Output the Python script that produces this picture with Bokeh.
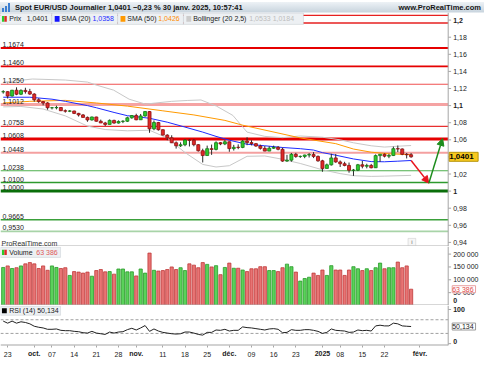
import numpy as np
from bokeh.plotting import figure
from bokeh.layouts import column
from bokeh.models import (Range1d, Label, Div, Arrow, NormalHead, FixedTicker, Span,
                          BoxAnnotation, LinearAxis)
from bokeh.embed import file_html
from bokeh.resources import INLINE

# ------------------------------------------------------------------ data
dates = ([f"2024-09-{d}" for d in ["20", "23", "24", "25", "26", "27", "30"]] +
         [f"2024-10-{d}" for d in ["01", "02", "03", "04", "07", "08", "09", "10", "11", "14", "15", "16",
                                    "17", "18", "21", "22", "23", "24", "25", "28", "29", "30", "31"]] +
         [f"2024-11-{d}" for d in ["01", "04", "05", "06", "07", "08", "11", "12", "13", "14", "15", "18",
                                    "19", "20", "21", "22", "25", "26", "27", "28", "29"]] +
         [f"2024-12-{d}" for d in ["02", "03", "04", "05", "06", "09", "10", "11", "12", "13", "16", "17",
                                    "18", "19", "20", "23", "24", "26", "27", "30", "31"]] +
         [f"2025-01-{d}" for d in ["02", "03", "06", "07", "08", "09", "10", "13", "14", "15", "16", "17",
                                    "20", "21", "22", "23", "24", "27", "28", "29", "30"]])

opens = [1.1161, 1.1163, 1.1112, 1.1180, 1.1133, 1.1178, 1.1164,
         1.1135, 1.1068, 1.1047, 1.1031, 1.0975, 1.0975, 1.0978, 1.0940, 1.0935, 1.0937, 1.0909, 1.0891,
         1.0862, 1.0832, 1.0867, 1.0817, 1.0797, 1.0780, 1.0827, 1.0796, 1.0815, 1.0817, 1.0857,
         1.0884, 1.0834, 1.0879, 1.0930, 1.0728, 1.0802, 1.0718, 1.0655, 1.0623, 1.0565, 1.0530, 1.0542,
         1.0597, 1.0596, 1.0543, 1.0472, 1.0416, 1.0496, 1.0488, 1.0566, 1.0552,
         1.0577, 1.0497, 1.0512, 1.0511, 1.0585, 1.0567, 1.0555, 1.0527, 1.0500, 1.0468, 1.0502, 1.0512,
         1.0489, 1.0351, 1.0362, 1.0430, 1.0405, 1.0406, 1.0422, 1.0427, 1.0406,
         1.0354, 1.0265, 1.0307, 1.0388, 1.0341, 1.0320, 1.0300, 1.0244, 1.0245, 1.0308, 1.0291, 1.0300,
         1.0273, 1.0415, 1.0431, 1.0409, 1.0416, 1.0496, 1.0493, 1.0430, 1.0425]
highs = [1.1180, 1.1168, 1.1183, 1.1214, 1.1190, 1.1209, 1.1196,
         1.1145, 1.1086, 1.1052, 1.1040, 1.0984, 1.0999, 1.0982, 1.0955, 1.0948, 1.0940, 1.0915, 1.0902,
         1.0872, 1.0871, 1.0870, 1.0836, 1.0810, 1.0838, 1.0835, 1.0827, 1.0829, 1.0870, 1.0889,
         1.0905, 1.0902, 1.0937, 1.0937, 1.0826, 1.0809, 1.0722, 1.0665, 1.0653, 1.0581, 1.0570, 1.0608,
         1.0610, 1.0609, 1.0549, 1.0496, 1.0532, 1.0544, 1.0582, 1.0573, 1.0597,
         1.0580, 1.0541, 1.0547, 1.0597, 1.0630, 1.0595, 1.0563, 1.0543, 1.0527, 1.0524, 1.0532, 1.0527,
         1.0509, 1.0424, 1.0446, 1.0447, 1.0416, 1.0426, 1.0445, 1.0456, 1.0416,
         1.0366, 1.0322, 1.0437, 1.0434, 1.0358, 1.0343, 1.0334, 1.0259, 1.0318, 1.0353, 1.0320, 1.0318,
         1.0429, 1.0433, 1.0440, 1.0436, 1.0520, 1.0533, 1.0499, 1.0445, 1.0444]
lows = [1.1140, 1.1083, 1.1107, 1.1122, 1.1123, 1.1140, 1.1126,
        1.1046, 1.1032, 1.1003, 1.0952, 1.0955, 1.0956, 1.0937, 1.0918, 1.0924, 1.0901, 1.0872, 1.0861,
        1.0811, 1.0825, 1.0812, 1.0796, 1.0761, 1.0780, 1.0788, 1.0790, 1.0795, 1.0808, 1.0847,
        1.0829, 1.0834, 1.0871, 1.0682, 1.0712, 1.0707, 1.0650, 1.0595, 1.0562, 1.0497, 1.0516, 1.0525,
        1.0522, 1.0524, 1.0462, 1.0335, 1.0416, 1.0424, 1.0476, 1.0537, 1.0538,
        1.0460, 1.0474, 1.0490, 1.0502, 1.0537, 1.0535, 1.0518, 1.0486, 1.0467, 1.0468, 1.0493, 1.0477,
        1.0343, 1.0342, 1.0344, 1.0389, 1.0388, 1.0385, 1.0393, 1.0386, 1.0343,
        1.0226, 1.0265, 1.0299, 1.0331, 1.0282, 1.0290, 1.0215, 1.0178, 1.0234, 1.0266, 1.0266, 1.0266,
        1.0270, 1.0342, 1.0394, 1.0385, 1.0410, 1.0457, 1.0420, 1.0382, 1.0390]
closes = [1.1163, 1.1112, 1.1180, 1.1133, 1.1178, 1.1164, 1.1135,
          1.1068, 1.1047, 1.1031, 1.0975, 1.0975, 1.0978, 1.0940, 1.0935, 1.0937, 1.0909, 1.0891, 1.0862,
          1.0832, 1.0867, 1.0817, 1.0797, 1.0780, 1.0827, 1.0796, 1.0815, 1.0817, 1.0857, 1.0884,
          1.0834, 1.0879, 1.0930, 1.0728, 1.0802, 1.0718, 1.0655, 1.0623, 1.0565, 1.0530, 1.0542, 1.0597,
          1.0596, 1.0543, 1.0472, 1.0416, 1.0496, 1.0488, 1.0566, 1.0552, 1.0577,
          1.0497, 1.0512, 1.0511, 1.0585, 1.0567, 1.0555, 1.0527, 1.0500, 1.0468, 1.0502, 1.0512, 1.0489,
          1.0351, 1.0362, 1.0430, 1.0405, 1.0406, 1.0422, 1.0427, 1.0406, 1.0354,
          1.0265, 1.0307, 1.0388, 1.0341, 1.0320, 1.0300, 1.0244, 1.0245, 1.0308, 1.0291, 1.0300, 1.0273,
          1.0415, 1.0431, 1.0409, 1.0416, 1.0496, 1.0493, 1.0430, 1.0425, 1.0401]

volumes_k = [148, 154, 144, 147, 154, 162, 167, 162, 144, 154, 137, 154, 148, 144, 147, 117, 132,
             130, 126, 130, 114, 136, 140, 131, 132, 122, 142, 142, 131, 131, 115, 142, 126, 204,
             137, 134, 136, 140, 150, 140, 147, 136, 162, 157, 147, 167, 160, 150, 155, 120, 148,
             165, 145, 145,
             138, 132, 143, 143, 151, 151, 136, 136, 132, 147, 161, 151, 130, 95, 105, 110, 126,
             117, 138, 117, 155, 138, 138, 117, 138, 151, 143, 136, 143, 136, 147, 165, 143, 147,
             147, 169, 147, 154, 63.386]

rsi = [66, 60, 66, 60, 64, 62, 58, 51, 48, 46, 42, 42, 43, 39, 38, 38, 36, 35, 32, 31, 36, 31, 29,
       27, 34, 31, 34, 35, 41, 45, 40, 46, 53, 36, 43, 37, 33, 31, 29, 28, 29, 34, 34, 31, 27, 25,
       33, 33, 40, 39, 42, 37, 39, 39, 49, 47, 46, 44, 42, 40, 43, 44, 42, 32, 33, 41, 39, 39, 41,
       41, 39, 36, 30, 33, 43, 39, 38, 37, 33, 34, 40, 38, 39, 37, 52, 54, 52, 52, 60, 58, 52, 51,
       50.134]

sma20_x = [-1, 5, 10, 13, 18, 20, 24, 27, 32, 36, 40, 44, 47, 50, 54, 58, 62, 66, 69, 71, 74, 78,
           82, 85, 88, 91]
sma20_v = [1.1098, 1.1098, 1.1075, 1.1050, 1.1000, 1.0975, 1.0920, 1.0882, 1.0852, 1.0806, 1.0749,
           1.0690, 1.0640, 1.0595, 1.0548, 1.0530, 1.0510, 1.0496, 1.0480, 1.0450, 1.0420, 1.0376,
           1.0345, 1.0343, 1.0350, 1.0358]
sma50_x = [-1, 5, 13, 20, 27, 35, 42, 49, 53, 66, 74, 78, 82, 86, 91]
sma50_v = [1.1031, 1.1050, 1.1061, 1.1031, 1.0994, 1.0939, 1.0891, 1.0827, 1.0771, 1.0622, 1.0555,
           1.0492, 1.0455, 1.0436, 1.0426]
boll_up_x = [-1, 5.6, 13, 18, 20.2, 23.9, 27.4, 31.1, 33.3, 37, 40.5, 43.6, 47.1, 50.8, 54, 58,
             62, 66, 71, 75, 78, 82, 85, 88, 91]
boll_up_v = [1.1274, 1.1311, 1.1299, 1.1275, 1.1237, 1.1181, 1.1075, 1.1017, 1.1030, 1.1050, 1.1060,
             1.1066, 1.0994, 1.0885, 1.0690, 1.0640, 1.0625, 1.0645, 1.0630, 1.0600, 1.0565, 1.0530,
             1.0515, 1.0525, 1.0533]
boll_lo_x = [-1, 3, 8, 13, 18, 22, 27, 32, 36, 40, 44, 47, 50, 54, 58, 62, 66, 71, 75, 78, 82, 85,
             91]
boll_lo_v = [1.0985, 1.0990, 1.0960, 1.0880, 1.0760, 1.0720, 1.0705, 1.0712, 1.0621, 1.0451, 1.0312,
             1.0282, 1.0297, 1.0407, 1.0411, 1.0372, 1.0323, 1.0249, 1.0205, 1.0180, 1.0172, 1.0175,
             1.0184]

levels = [1.2056, 1.1966, 1.1674, 1.1460, 1.1250, 1.1012, 1.0758, 1.0608, 1.0448, 1.0238, 1.0100,
          1.0000, 0.9665, 0.9530]
level_labels = ["", "", "1,1674", "1,1460", "1,1250", "1,1012", "1,0758", "1,0608", "1,0448",
                "1,0238", "1,0100", "1,0000", "0,9665", "0,9530"]
level_colors = ["#e62020", "#e62020", "#e60000", "#e60000", "#f05050", "#f5a3a3", "#e83030",
                "#e60000", "#f4a0a0", "#4caf4c", "#2e9a2e", "#0a6e0a", "#3aa03a", "#a8d4a8"]
level_widths = [1.3, 1.3, 1.8, 1.8, 1.2, 3, 1.3, 3, 2, 1.2, 1.5, 3, 1.3, 1.8]

price_ticks = [0.94, 0.96, 0.98, 1.0, 1.02, 1.04, 1.06, 1.08, 1.1, 1.12, 1.14, 1.16, 1.18, 1.2]
price_tick_labels = ["0,94", "0,96", "0,98", "1", "1,02", "1,04", "1,06", "1,08", "1,1", "1,12",
                     "1,14", "1,16", "1,18", "1,2"]
price_bold = ["1", "1,1", "1,2"]
vol_ticks = [0, 50000, 100000, 150000, 200000]
vol_tick_labels = ["0", "50 000", "100 000", "150 000", "200 000"]
rsi_ticks = [0, 100]
rsi_tick_labels = ["0", "100"]
rsi_levels = [70, 30]

date_ticks = [0, 6, 10, 15, 20, 25, 29, 35, 40, 45, 50, 55, 60, 65, 71, 75, 80, 85, 93]
date_labels = ["23", "oct.", "07", "14", "21", "28", "nov.", "11", "18", "25", "déc.", "09", "16",
               "23", "2025", "08", "15", "22", "févr."]
date_bold = ["oct.", "nov.", "déc.", "2025", "févr."]

arrow_x = [91, 95.0, 98.1]
arrow_y = [1.0358, 1.0093, 1.0615]

last_price = 1.0401
title = "Spot EUR/USD Journalier 1,0401 \u22120,23 % 30 janv. 2025, 10:57:41"

# ------------------------------------------------------------------ layout constants
W = 484
FONT = "Liberation Sans"
GREY = "#a6a6a6"
XR = Range1d(-1.6157, 107.555)
main_y = Range1d(0.9352, 1.2089)
vol_y = Range1d(0, 229600)
rsi_y = Range1d(-5.4, 111.7)


def mx(rx):   # reference-pixel x -> index units
    return XR.start + rx * (XR.end - XR.start) / 500


def my(ry):   # reference-pixel y -> price
    return 1 + (199 - ry) / 895


def vy(ry):
    return (319 - ry) / 54 * 200000


def ry_rsi(ry):
    return 70 - (ry - 334.3) / 0.3675


AX = mx(462.5)           # position of the price scale line
TICK = mx(465.5) - AX


def make_fig(h, yr, bottom=0):
    f = figure(width=W, height=h, x_range=XR, y_range=yr, output_backend="svg",
               toolbar_location=None, y_axis_location=None,
               x_axis_location=("below" if bottom else None),
               min_border_left=0, min_border_right=0, min_border_top=0,
               min_border_bottom=bottom, background_fill_color="white",
               border_fill_color="white", outline_line_color=None)
    f.xgrid.visible = False
    f.ygrid.visible = False
    f.add_layout(Span(location=AX, dimension="height", line_color=GREY, line_width=1))
    return f


def add_label(f, x, y, text, color="#222222", size="7px", bold=False, align="left",
              baseline="middle", xo=0, yo=0, bg=None, border=None):
    f.add_layout(Label(x=x, y=y, text=text, text_color=color, text_font=FONT,
                       text_font_size=size, text_font_style=("bold" if bold else "normal"),
                       text_align=align, text_baseline=baseline, x_offset=xo, y_offset=yo,
                       background_fill_color=bg, border_line_color=border))


def price_scale(f, ticks, labels, bold=(), yo=None):
    f.segment(x0=[AX] * len(ticks), x1=[AX + TICK] * len(ticks), y0=ticks, y1=ticks,
              color=GREY, line_width=1)
    for t, lab in zip(ticks, labels):
        add_label(f, AX, t, lab, bold=(lab in bold), xo=5, yo=(yo or {}).get(lab, 0))


def hline(f, y, color="#b0b0b0", width=2):
    f.segment(x0=[XR.start], x1=[AX], y0=[y], y1=[y], color=color, line_width=width)


def style_xaxis(a, bold):
    a.axis_line_color = None
    a.minor_tick_line_color = None
    a.major_label_text_font = FONT
    a.major_label_text_font_size = "7px"
    a.major_label_text_color = "#222222"
    a.major_label_text_font_style = "bold" if bold else "normal"


xi = np.arange(len(dates)) - 1
o = np.array(opens); c = np.array(closes); hi = np.array(highs); lo = np.array(lows)
up = c >= o

# ------------------------------------------------------------------ title bar
icon = ('<svg width="10" height="9" style="margin-right:3px">'
        '<rect x="0" y="5" width="2" height="4" fill="#3d7fd1"/>'
        '<rect x="3" y="3" width="2" height="6" fill="#3d7fd1"/>'
        '<rect x="6" y="0" width="2" height="9" fill="#3d7fd1"/></svg>')
title_div = Div(
    text=(f'<div style="width:{W}px;height:12px;box-sizing:border-box;display:flex;'
          'justify-content:space-between;align-items:center;'
          'background:linear-gradient(#edf2f6,#c6d2dc);border-bottom:1px solid #a4b0ba;'
          f'font:bold 7.5px \'{FONT}\';color:#151515;padding:0 3px 0 2px;">'
          f'<span style="display:flex;align-items:center">{icon}{title}</span>'
          '<span>www.ProRealTime.com</span></div>'),
    width=W, height=12, margin=0)

# ------------------------------------------------------------------ main price panel
p = make_fig(234, main_y)
p.segment(x0=[XR.start] * len(levels), x1=[AX] * len(levels), y0=levels, y1=levels,
          color=level_colors, line_width=level_widths)

p.line(boll_up_x, boll_up_v, color="#c8c8c8", line_width=1)
p.line(boll_lo_x, boll_lo_v, color="#c8c8c8", line_width=1)
p.line(sma50_x, sma50_v, color="#ff9a00", line_width=1)
p.line(sma20_x, sma20_v, color="#1e2cff", line_width=1)

p.segment(x0=xi, y0=lo, x1=xi, y1=hi, color="#2a2a2a", line_width=1)
p.vbar(x=xi, width=0.68, top=np.maximum(o, c), bottom=np.minimum(o, c),
       fill_color=np.where(up, "#2ccc2c", "#e02828"),
       line_color=np.where(up, "#157a15", "#8a1010"), line_width=0.8)
hline(p, main_y.start)

for lv, txt in zip(levels, level_labels):
    if txt:
        add_label(p, XR.start, lv, txt, baseline="bottom", xo=2, yo=1)

p.add_layout(Arrow(x_start=arrow_x[0], y_start=arrow_y[0], x_end=arrow_x[1], y_end=arrow_y[1],
                   line_color="#e8141e", line_width=1.5,
                   end=NormalHead(size=7, fill_color="#e8141e", line_color="#e8141e")))
p.add_layout(Arrow(x_start=arrow_x[1], y_start=arrow_y[1], x_end=arrow_x[2], y_end=arrow_y[2],
                   line_color="#1c8c1c", line_width=1.5,
                   end=NormalHead(size=7, fill_color="#1c8c1c", line_color="#1c8c1c")))

price_scale(p, price_ticks, price_tick_labels, bold=price_bold)
add_label(p, AX, last_price, " 1,0401 ", color="#000000", size="8px", bold=True, xo=1,
          bg="#f7c81e", border="#b8960c")

# legend row
for a, bnd in [(0, 53), (53, 121), (121, 189), (189, 313)]:
    p.add_layout(BoxAnnotation(left=mx(a), right=mx(bnd), top=my(12.6), bottom=my(24.5),
                               fill_color="#edf0f3", fill_alpha=1, line_color="#aab3bb",
                               line_width=1))
for (a, bnd, col) in [(1.5, 4, "#2ccc2c"), (4, 6.5, "#e02828"), (56, 61, "#1414ff"),
                      (124, 129, "#ff9900"), (192, 197, "#cccccc")]:
    p.add_layout(BoxAnnotation(left=mx(a), right=mx(bnd), top=my(15.8), bottom=my(21.6),
                               fill_color=col, fill_alpha=1, line_color=None))
ly = my(18.8)
add_label(p, mx(9), ly, "Prix")
add_label(p, mx(27), ly, "1,0401")
add_label(p, mx(63), ly, "SMA (20)")
add_label(p, mx(95), ly, "1,0358", color="#1e2cff")
add_label(p, mx(131), ly, "SMA (50)")
add_label(p, mx(163), ly, "1,0426", color="#ff8c00")
add_label(p, mx(199), ly, "Bollinger (20 2,5)")
add_label(p, mx(257), ly, "1,0533  1,0184", color="#bdbdbd")

add_label(p, mx(1), my(254), "ProRealTime.com", color="#333333")
p.add_layout(BoxAnnotation(left=mx(421), right=mx(429), top=my(248.5), bottom=my(256),
                           fill_color="#f6f6f6", fill_alpha=1, line_color="#a8a8a8"))
add_label(p, mx(425), my(252.2), "i", color="#666666", size="6px", align="center")

# ------------------------------------------------------------------ volume panel
v = make_fig(59, vol_y)
vols = np.array(volumes_k) * 1000
v.vbar(x=xi, width=0.72, top=vols, bottom=0,
       fill_color=np.where(up, "#5ad25a", "#e87474"),
       line_color=np.where(up, "#2a9a2a", "#c03a3a"), line_width=0.8)
hline(v, vol_y.start)
price_scale(v, vol_ticks, vol_tick_labels, bold=["0"], yo={"0": 5})
add_label(v, AX, vols[-1], "63 386 ", color="#e04848", xo=4, bg="#ffffff", border="#e8a0a0")
v.add_layout(BoxAnnotation(left=mx(0), right=mx(62), top=vy(257.8), bottom=vy(268.5),
                           fill_color="#edf0f3", fill_alpha=1, line_color="#aab3bb"))
v.add_layout(BoxAnnotation(left=mx(1.5), right=mx(4), top=vy(260.5), bottom=vy(266),
                           fill_color="#2ccc2c", fill_alpha=1, line_color=None))
v.add_layout(BoxAnnotation(left=mx(4), right=mx(6.5), top=vy(260.5), bottom=vy(266),
                           fill_color="#e02828", fill_alpha=1, line_color=None))
add_label(v, mx(9), vy(263.3), "Volume")
add_label(v, mx(37), vy(263.3), "63 386", color="#e05858")

# ------------------------------------------------------------------ RSI panel
r = make_fig(54, rsi_y, bottom=13)
r.segment(x0=[XR.start] * len(rsi_levels), x1=[AX] * len(rsi_levels), y0=rsi_levels,
          y1=rsi_levels, color="#a0a0a0", line_width=1, line_dash="3 2")
r.line(xi, rsi, color="#222222", line_width=1)
hline(r, rsi_y.start, color=GREY)
price_scale(r, rsi_ticks, rsi_tick_labels, bold=rsi_tick_labels, yo={"0": 2})
add_label(r, AX, rsi[-1], "50,134 ", color="#222222", xo=4, bg="#ffffff", border="#9a9a9a")
r.add_layout(BoxAnnotation(left=mx(0), right=mx(62), top=ry_rsi(319.8), bottom=ry_rsi(329.5),
                           fill_color="#edf0f3", fill_alpha=1, line_color="#aab3bb"))
r.add_layout(BoxAnnotation(left=mx(1.5), right=mx(6.5), top=ry_rsi(322), bottom=ry_rsi(327.3),
                           fill_color="#000000", fill_alpha=1, line_color=None))
add_label(r, mx(9), ry_rsi(324.7), "RSI (14) 50,134")

# date axis: month names in bold on the first axis, day numbers on a second axis
# drawn on the same row
xa = r.xaxis[0]
xa.ticker = FixedTicker(ticks=date_ticks)
xa.major_label_overrides = {t: (lab if lab in date_bold else "")
                            for t, lab in zip(date_ticks, date_labels)}
style_xaxis(xa, bold=True)
xa.major_tick_line_color = GREY
xa.major_tick_out = 2
xa.major_tick_in = 0
xa.major_label_standoff = 2

day_ticks = [t for t, lab in zip(date_ticks, date_labels) if lab not in date_bold]
xd = LinearAxis(ticker=FixedTicker(ticks=day_ticks),
                major_label_overrides={t: lab for t, lab in zip(date_ticks, date_labels)
                                       if lab not in date_bold})
style_xaxis(xd, bold=False)
xd.major_tick_line_color = None
xd.major_tick_out = 0
xd.major_tick_in = 0
xd.major_label_standoff = -8
r.add_layout(xd, "below")

layout = column(title_div, p, v, r, spacing=0)
open("out.html", "w").write(file_html(layout, INLINE))
